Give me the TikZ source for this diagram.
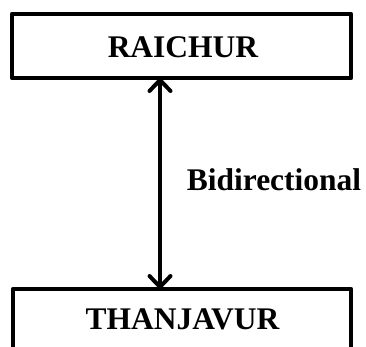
\documentclass[tikz,border=0pt]{standalone}
\usepackage{fontspec}
\setmainfont{Liberation Serif}
\usetikzlibrary{arrows.meta}
\begin{document}
\begin{tikzpicture}[x=1pt,y=-1pt,
  box/.style={draw,line width=4.5pt,line join=round},
  lbl/.style={font=\fontsize{31.5}{31.5}\selectfont\bfseries,inner sep=0pt},
  link/.style={line width=4pt,{Straight Barb[length=11pt,width=21pt,line width=4pt,round]}-{Straight Barb[length=11pt,width=21pt,line width=4pt,round]}}]
\useasboundingbox (0,0) rectangle (366,347);
\draw[box] (12,14) rectangle (351,78);
\coordinate (topb) at (160,78);
\node[lbl] (r) at (183,47) {RAICHUR};
\draw[box] (13,289) rectangle (351,360);
\coordinate (botb) at (160,289);
\node[lbl] (t) at (182.5,319) {THANJAVUR};
\node[lbl] (b) at (274,180) {Bidirectional};
\draw[link] (topb) -- (botb);
\end{tikzpicture}
\end{document}
